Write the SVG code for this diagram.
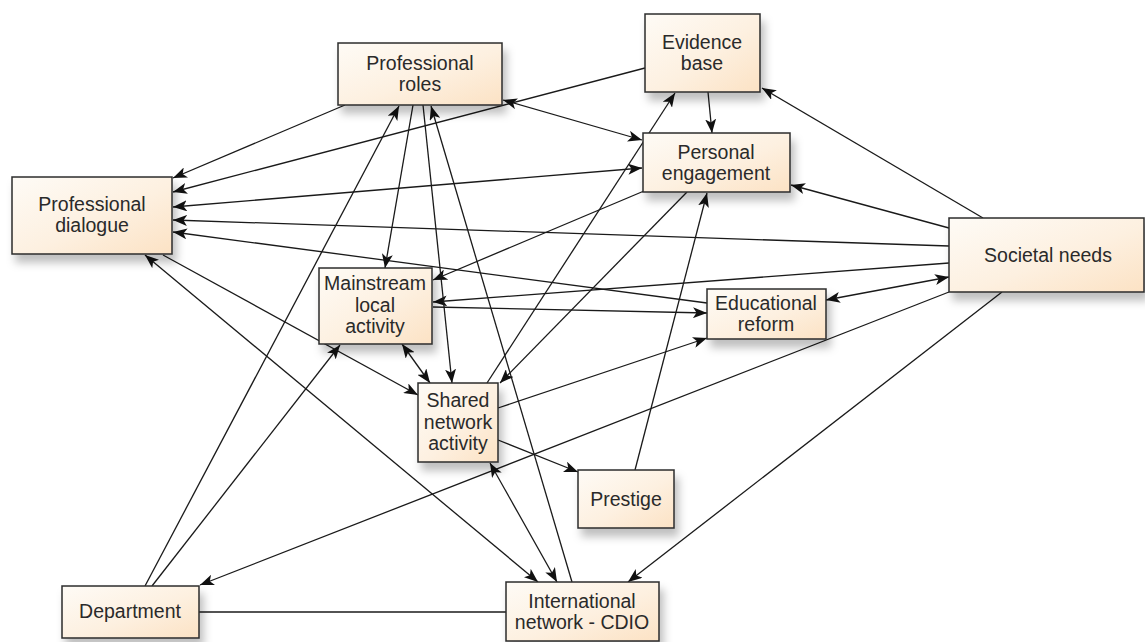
<svg xmlns="http://www.w3.org/2000/svg" width="1145" height="642" viewBox="0 0 1145 642">
<defs>
<linearGradient id="nodeFill" x1="0" y1="0" x2="1" y2="1">
<stop offset="0" stop-color="#fefbf6"/>
<stop offset="0.55" stop-color="#fdf0e0"/>
<stop offset="1" stop-color="#fce2c4"/>
</linearGradient>
<filter id="shadow" x="-20%" y="-20%" width="150%" height="170%">
<feDropShadow dx="4" dy="8" stdDeviation="4" flood-color="#000" flood-opacity="0.25"/>
</filter>
<marker id="arr" viewBox="0 0 14 11" refX="14" refY="5.5" markerWidth="14" markerHeight="11" markerUnits="userSpaceOnUse" orient="auto-start-reverse">
<path d="M0,0 L14,5.5 L0,11 L3.5,5.5 Z" fill="#111"/>
</marker>
</defs>
<style>
.box{fill:url(#nodeFill);stroke:#2b2b2b;stroke-width:1.5;filter:url(#shadow)}
.lbl{font-family:"Liberation Sans",Arial,sans-serif;font-size:19.5px;fill:#2a2a2a;text-anchor:middle}
.c line{stroke:#1a1a1a;stroke-width:1.3;fill:none}
.e{marker-end:url(#arr)}
.b{marker-start:url(#arr);marker-end:url(#arr)}
</style>
<rect width="1145" height="642" fill="#ffffff"/>
<g id="connectors" class="c">
<line class="e" x1="345" y1="105" x2="173" y2="178"/>
<line class="e" x1="645" y1="68" x2="173" y2="192"/>
<line class="b" x1="173" y1="207" x2="642" y2="168"/>
<line class="e" x1="949" y1="246" x2="173" y2="220"/>
<line class="e" x1="707" y1="303" x2="173" y2="232"/>
<line class="b" x1="503" y1="100" x2="642" y2="140"/>
<line class="e" x1="708" y1="92" x2="712" y2="133"/>
<line class="e" x1="983" y1="218" x2="762" y2="88"/>
<line class="e" x1="949" y1="228" x2="791" y2="185"/>
<line class="e" x1="949" y1="263" x2="433" y2="302"/>
<line class="b" x1="826" y1="300" x2="949" y2="277"/>
<line class="e" x1="949" y1="292" x2="200" y2="585"/>
<line class="e" x1="1002" y1="292" x2="628" y2="582"/>
<line class="e" x1="644" y1="191" x2="433" y2="280"/>
<line class="e" x1="433" y1="307" x2="707" y2="313"/>
<line class="e" x1="498" y1="408" x2="707" y2="338"/>
<line class="e" x1="498" y1="440" x2="578" y2="472"/>
<line class="b" x1="402" y1="344" x2="430" y2="383"/>
<line class="e" x1="413" y1="105" x2="385" y2="268"/>
<line class="e" x1="423" y1="105" x2="452" y2="383"/>
<line class="e" x1="145" y1="586" x2="399" y2="106"/>
<line class="e" x1="152" y1="586" x2="340" y2="345"/>
<line class="e" x1="572" y1="582" x2="431" y2="106"/>
<line class="e" x1="487" y1="383" x2="675" y2="93"/>
<line class="e" x1="687" y1="192" x2="500" y2="383"/>
<line class="e" x1="635" y1="470" x2="707" y2="193"/>
<line class="e" x1="163" y1="255" x2="418" y2="395"/>
<line class="b" x1="145" y1="255" x2="538" y2="582"/>
<line class="b" x1="490" y1="463" x2="557" y2="582"/>
<line x1="199" y1="612" x2="506" y2="612"/>
</g>
<g id="node-professional-dialogue">
<rect class="box" x="12" y="177" width="160" height="77"/>
<text class="lbl" x="92" y="211">Professional</text>
<text class="lbl" x="92" y="232">dialogue</text>
</g>
<g id="node-professional-roles">
<rect class="box" x="338" y="43" width="164" height="62"/>
<text class="lbl" x="420" y="70">Professional</text>
<text class="lbl" x="420" y="91">roles</text>
</g>
<g id="node-evidence-base">
<rect class="box" x="645" y="14" width="115" height="78"/>
<text class="lbl" x="702" y="49">Evidence</text>
<text class="lbl" x="702" y="70">base</text>
</g>
<g id="node-personal-engagement">
<rect class="box" x="643" y="133" width="147" height="59"/>
<text class="lbl" x="716" y="159">Personal</text>
<text class="lbl" x="716" y="180">engagement</text>
</g>
<g id="node-societal-needs">
<rect class="box" x="949" y="218" width="195" height="74"/>
<text class="lbl" x="1048" y="262">Societal needs</text>
</g>
<g id="node-educational-reform">
<rect class="box" x="707" y="289" width="119" height="50"/>
<text class="lbl" x="766" y="310">Educational</text>
<text class="lbl" x="766" y="331">reform</text>
</g>
<g id="node-mainstream-local-activity">
<rect class="box" x="319" y="268" width="113" height="76"/>
<text class="lbl" x="375" y="290">Mainstream</text>
<text class="lbl" x="375" y="312">local</text>
<text class="lbl" x="375" y="333">activity</text>
</g>
<g id="node-shared-network-activity">
<rect class="box" x="418" y="383" width="80" height="79"/>
<text class="lbl" x="458" y="407">Shared</text>
<text class="lbl" x="458" y="429">network</text>
<text class="lbl" x="458" y="450">activity</text>
</g>
<g id="node-prestige">
<rect class="box" x="578" y="470" width="96" height="58"/>
<text class="lbl" x="626" y="506">Prestige</text>
</g>
<g id="node-department">
<rect class="box" x="62" y="586" width="137" height="52"/>
<text class="lbl" x="130" y="618">Department</text>
</g>
<g id="node-international-network">
<rect class="box" x="506" y="582" width="153" height="59"/>
<text class="lbl" x="582" y="608">International</text>
<text class="lbl" x="582" y="629">network - CDIO</text>
</g>
</svg>
